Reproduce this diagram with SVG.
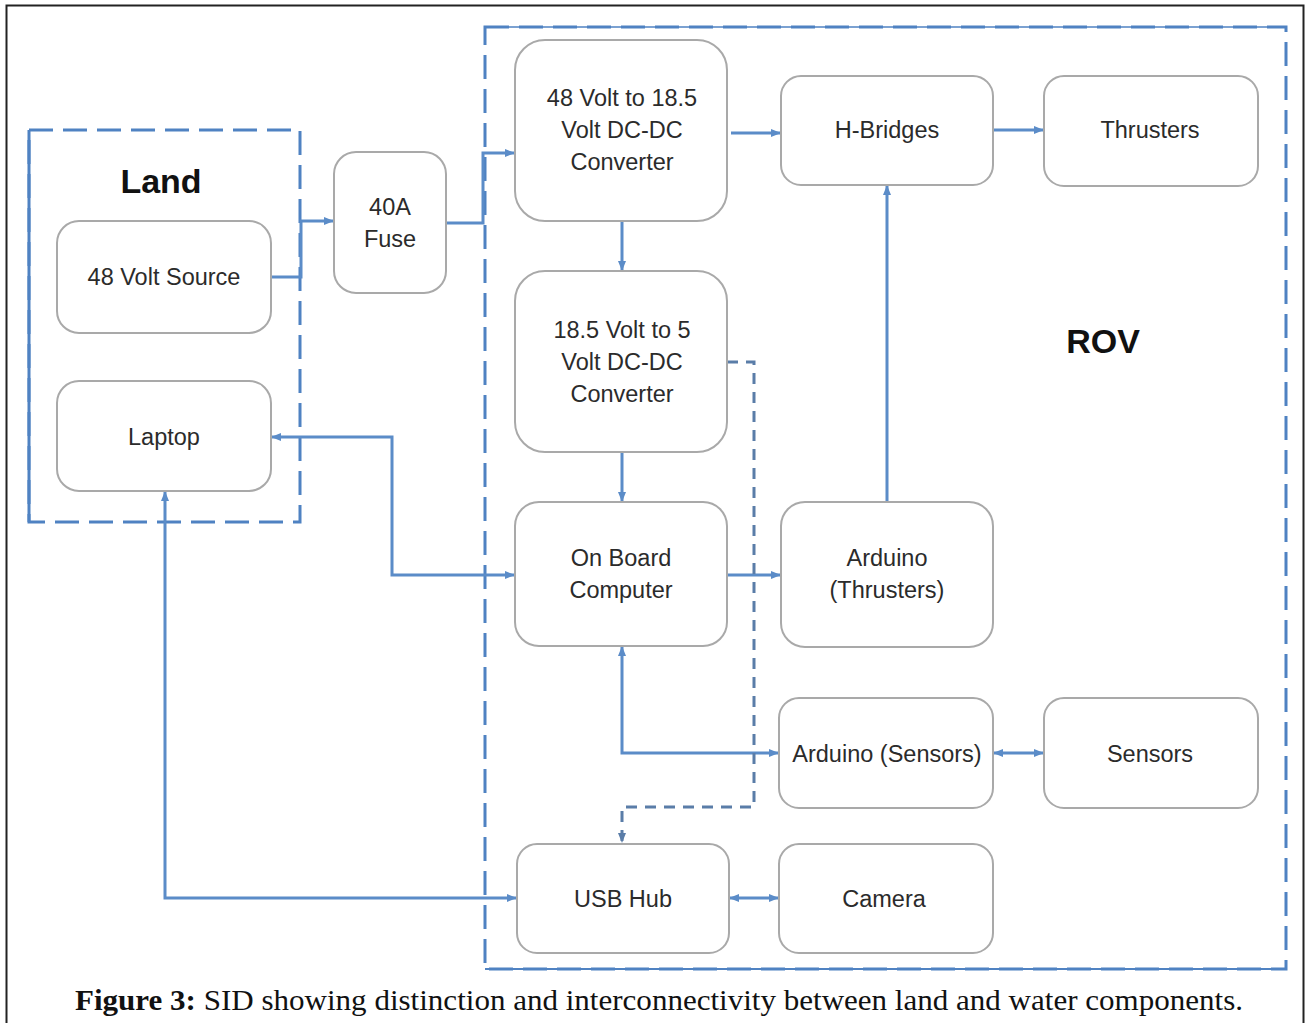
<svg xmlns="http://www.w3.org/2000/svg" width="1309" height="1023" viewBox="0 0 1309 1023">
<defs>
<style>
.node rect{fill:#ffffff;stroke:#a9a9a9;stroke-width:2}
.node text{font-family:"Liberation Sans",Arial,sans-serif;font-size:23.5px;fill:#2b2b2b;text-anchor:middle}
.title{font-family:"Liberation Sans",Arial,sans-serif;font-size:34px;font-weight:bold;fill:#111111;text-anchor:middle}
.conn path{fill:none;stroke:#5b8cc8;stroke-width:3}
.conn path.dash{stroke:#5a7da8;stroke-dasharray:11 8;stroke-width:3}
.region{fill:none;stroke:#4f82c2;stroke-width:3;stroke-dasharray:24 10}
</style>
<marker id="ah" viewBox="0 0 10 8" refX="10" refY="4" markerWidth="10" markerHeight="8" markerUnits="userSpaceOnUse" orient="auto-start-reverse">
<path d="M0,0 L10,4 L0,8 z" fill="#5b8cc8"/>
</marker>
<marker id="ahd" viewBox="0 0 10 8" refX="10" refY="4" markerWidth="10" markerHeight="8" markerUnits="userSpaceOnUse" orient="auto">
<path d="M0,0 L10,4 L0,8 z" fill="#5a7da8"/>
</marker>
</defs>
<rect x="0" y="0" width="1309" height="1023" fill="#ffffff"/>
<rect x="6.5" y="5.5" width="1297" height="1040" fill="none" stroke="#222222" stroke-width="2"/>

<g id="region-land">
<line x1="29" y1="130" x2="29" y2="522" stroke="#4f82c2" stroke-width="3"/>
<rect class="region" x="29" y="130" width="271" height="392"/>
<text class="title" x="161" y="193">Land</text>
</g>
<g id="region-rov">
<line x1="485" y1="27" x2="1286" y2="27" stroke="#4f82c2" stroke-width="1.5"/>
<line x1="485" y1="969" x2="1286" y2="969" stroke="#4f82c2" stroke-width="2"/>
<rect class="region" x="485" y="27" width="801" height="942"/>
<text class="title" x="1103" y="353">ROV</text>
</g>

<g class="conn" id="connectors">
<path d="M271,277 H301 V221 H334" marker-end="url(#ah)"/>
<path d="M446,223 H483 V153 H515" marker-end="url(#ah)"/>
<path d="M731,133 H781" marker-end="url(#ah)"/>
<path d="M993,130 H1044" marker-end="url(#ah)"/>
<path d="M622,220 V271" marker-end="url(#ah)"/>
<path d="M622,452 V502" marker-end="url(#ah)"/>
<path d="M271,437 H392 V575 H515" marker-start="url(#ah)" marker-end="url(#ah)"/>
<path d="M727,575 H781" marker-end="url(#ah)"/>
<path d="M887,502 V185" marker-end="url(#ah)"/>
<path d="M622,646 V753 H779" marker-start="url(#ah)" marker-end="url(#ah)"/>
<path d="M993,753 H1044" marker-start="url(#ah)" marker-end="url(#ah)"/>
<path d="M729,898 H779" marker-start="url(#ah)" marker-end="url(#ah)"/>
<path d="M165,491 V898 H517" marker-start="url(#ah)" marker-end="url(#ah)"/>
<path class="dash" d="M727,362 H754 V807 H622 V843" marker-end="url(#ahd)"/>
</g>

<g class="node" id="source48">
<rect x="57" y="221" width="214" height="112" rx="22"/>
<text x="164" y="285">48 Volt Source</text>
</g>
<g class="node" id="laptop">
<rect x="57" y="381" width="214" height="110" rx="22"/>
<text x="164" y="445">Laptop</text>
</g>
<g class="node" id="fuse">
<rect x="334" y="152" width="112" height="141" rx="22"/>
<text x="390" y="215">40A</text>
<text x="390" y="247">Fuse</text>
</g>
<g class="node" id="conv48">
<rect x="515" y="40" width="212" height="181" rx="30"/>
<text x="622" y="106">48 Volt to 18.5</text>
<text x="622" y="138">Volt DC-DC</text>
<text x="622" y="170">Converter</text>
</g>
<g class="node" id="hbridges">
<rect x="781" y="76" width="212" height="109" rx="20"/>
<text x="887" y="138">H-Bridges</text>
</g>
<g class="node" id="thrusters">
<rect x="1044" y="76" width="214" height="110" rx="20"/>
<text x="1150" y="138">Thrusters</text>
</g>
<g class="node" id="conv18">
<rect x="515" y="271" width="212" height="181" rx="30"/>
<text x="622" y="338">18.5 Volt to 5</text>
<text x="622" y="370">Volt DC-DC</text>
<text x="622" y="402">Converter</text>
</g>
<g class="node" id="obc">
<rect x="515" y="502" width="212" height="144" rx="24"/>
<text x="621" y="566">On Board</text>
<text x="621" y="598">Computer</text>
</g>
<g class="node" id="ardthr">
<rect x="781" y="502" width="212" height="145" rx="24"/>
<text x="887" y="566">Arduino</text>
<text x="887" y="598">(Thrusters)</text>
</g>
<g class="node" id="ardsens">
<rect x="779" y="698" width="214" height="110" rx="20"/>
<text x="887" y="762">Arduino (Sensors)</text>
</g>
<g class="node" id="sensors">
<rect x="1044" y="698" width="214" height="110" rx="20"/>
<text x="1150" y="762">Sensors</text>
</g>
<g class="node" id="usbhub">
<rect x="517" y="844" width="212" height="109" rx="20"/>
<text x="623" y="907">USB Hub</text>
</g>
<g class="node" id="camera">
<rect x="779" y="844" width="214" height="109" rx="20"/>
<text x="884" y="907">Camera</text>
</g>

<text x="75" y="1010" font-family="'Liberation Serif','Times New Roman',serif" font-size="30" fill="#111111" textLength="1168" lengthAdjust="spacingAndGlyphs"><tspan font-weight="bold">Figure 3:</tspan> SID showing distinction and interconnectivity between land and water components.</text>
</svg>
